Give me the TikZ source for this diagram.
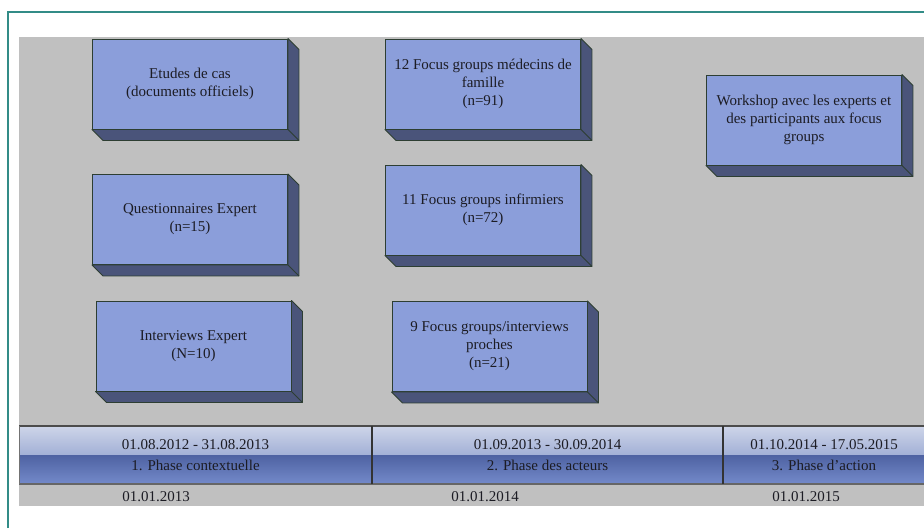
\documentclass[tikz,border=0pt]{standalone}
\usepackage{fontspec}
\setmainfont{Liberation Serif}
\usetikzlibrary{calc}
\definecolor{framecol}{RGB}{50,140,135}
\definecolor{bgcol}{RGB}{192,192,192}
\definecolor{facecol}{RGB}{139,158,218}
\definecolor{sidecol}{RGB}{74,84,122}
\definecolor{edgecol}{RGB}{45,62,50}
\definecolor{txtcol}{RGB}{28,28,36}
\definecolor{barA}{RGB}{206,213,233}
\definecolor{barB}{RGB}{162,176,214}
\definecolor{barC}{RGB}{78,98,162}
\definecolor{barD}{RGB}{116,138,202}
\tikzset{
  facebox/.style={draw=edgecol, line width=0.9pt, fill=facecol, align=center,
    text=txtcol, font=\fontsize{15}{18}\selectfont, inner sep=2pt,
    minimum width=195pt, minimum height=90pt},
  sideface/.style={fill=sidecol, draw=edgecol, line width=0.9pt, line join=round},
  bartext/.style={text=txtcol, font=\fontsize{15}{18}\selectfont, inner sep=0pt},
  datetext/.style={text=txtcol, font=\fontsize{15}{18}\selectfont, inner sep=0pt},
}
\newcommand\cubebox[4]{% name, center x, center y, text
  \node[facebox] (#1) at (#2,#3) {#4};
  \draw[sideface] (#1.south west) -- (#1.south east) -- (#1.north east)
    -- ($(#1.north east)+(11,11)$) -- ($(#1.south east)+(11,11)$)
    -- ($(#1.south west)+(11,11)$) -- cycle;
  \draw[edgecol, line width=0.9pt] (#1.south east) -- ($(#1.south east)+(11,11)$);
}
\begin{document}
\begin{tikzpicture}[x=1pt,y=-1pt]
\useasboundingbox (0,0) rectangle (924,528);
\fill[white] (0,0) rectangle (924,528);
% frame
\draw[framecol, line width=2pt] (8,528) -- (8,12) -- (924,12);
% gray background
\fill[bgcol] (19,37) rectangle (924,506);
% boxes
\cubebox{b1}{190}{84}{Etudes de cas\\(documents officiels)}
\cubebox{b2}{190}{219.5}{Questionnaires Expert\\(n=15)}
\cubebox{b3}{193.5}{346}{Interviews Expert\\(N=10)}
\cubebox{b4}{483}{84}{12 Focus groups médecins de\\famille\\(n=91)}
\cubebox{b5}{483}{210}{11 Focus groups infirmiers\\(n=72)}
\cubebox{b6}{489.5}{346.5}{9 Focus groups/interviews\\proches\\(n=21)}
\cubebox{b7}{804}{120}{Workshop avec les experts et\\des participants aux focus\\groups}
% timeline bar
\shade[top color=barA, bottom color=barB] (19,426) rectangle (924,455);
\shade[top color=barC, bottom color=barD] (19,455) rectangle (924,484);
\draw[black!70, line width=1.2pt] (19,426) -- (924,426);
\draw[black!60, line width=1.2pt] (19,484) -- (924,484);
\draw[black!55, line width=0.8pt] (19,426) -- (19,484);
\draw[black!80, line width=1.5pt] (372,426) -- (372,484);
\draw[black!80, line width=1.5pt] (723,426) -- (723,484);
% bar texts
\node[bartext] (d1) at (195.5,445) {01.08.2012 - 31.08.2013};
\node[bartext] (p1) at (195.5,465) {1. Phase contextuelle};
\node[bartext] (d2) at (547.5,445) {01.09.2013 - 30.09.2014};
\node[bartext] (p2) at (547.5,465) {2. Phase des acteurs};
\node[bartext] (d3) at (824,445) {01.10.2014 - 17.05.2015};
\node[bartext] (p3) at (824,465) {3. Phase d’action};
% year labels
\node[datetext] (y1) at (156,497) {01.01.2013};
\node[datetext] (y2) at (485,497) {01.01.2014};
\node[datetext] (y3) at (806,497) {01.01.2015};
\end{tikzpicture}
\end{document}
